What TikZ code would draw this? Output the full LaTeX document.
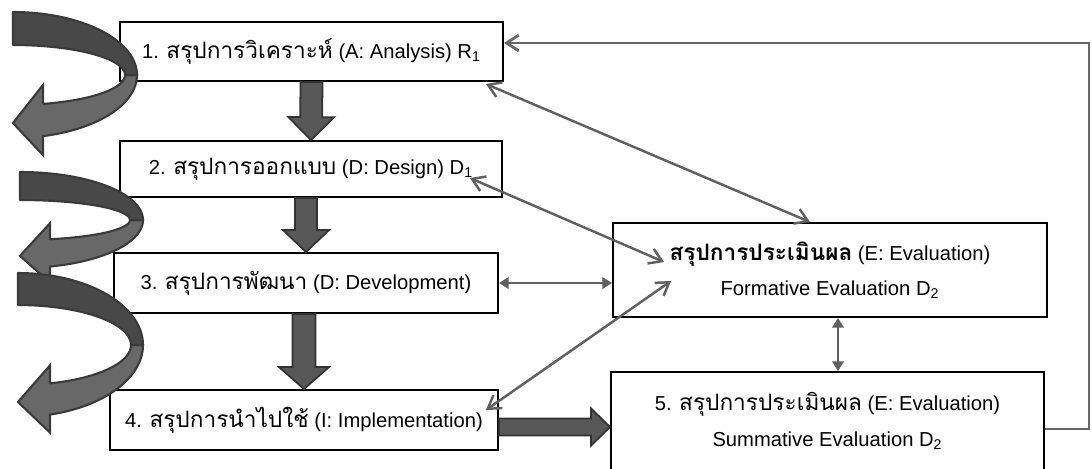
\documentclass[tikz,border=0pt]{standalone}
\usepackage{fontspec}
\setmainfont{Liberation Sans}
\newfontfamily\thaifont[Script=Thai,Scale=1.12]{Loma}
\usetikzlibrary{arrows.meta,calc,positioning}
\definecolor{linkgray}{RGB}{96,96,96}
\definecolor{backgray}{RGB}{104,104,104}
\definecolor{fatgray}{RGB}{88,88,88}
\definecolor{fatline}{RGB}{50,50,50}
\definecolor{ribfront}{RGB}{72,72,72}
\definecolor{ribback}{RGB}{104,104,104}
\definecolor{ribline}{RGB}{58,58,58}
\tikzstyle{box}=[draw=black,line width=1.1pt,fill=white,inner sep=0pt,align=center]
\tikzstyle{fat}=[draw=fatline,fill=fatgray,line width=1pt,line join=miter]
\newcommand{\thai}[1]{{\thaifont #1}}
% thick block arrow: from, to, shaft half width, head half width, head length
\newcommand{\fatarrow}[5]{
  \coordinate (hb) at ($(#2)!#5!(#1)$);
  \filldraw[fat] ($(#1)!#3!90:(#2)$) -- ($(hb)!#3!90:(#2)$) -- ($(hb)!#4!90:(#2)$) -- (#2)
    -- ($(hb)!#4!-90:(#2)$) -- ($(hb)!#3!-90:(#2)$) -- ($(#1)!#3!-90:(#2)$) -- cycle;}
% curved ribbon arrow: cx, cy, outer rx, outer ry, inner rx, inner ry, head x, head overhang
\newcommand{\ribbon}[8]{
  \pgfmathsetmacro\ao{acos((#7-#1)/#3)}
  \pgfmathsetmacro\ai{acos((#7-#1)/#5)}
  \pgfmathsetmacro\yo{#2+#4*sin(\ao)}
  \pgfmathsetmacro\yi{#2+#6*sin(\ai)}
  \pgfmathsetmacro\ym{(\yo+\yi)/2+3}
  \filldraw[ribbonback] plot[domain=0:\ao,samples=30] ({#1+#3*cos(\x)},{#2+#4*sin(\x)})
    -- (#7,\yo+#8) -- (#1,\ym) -- (#7,\yi-#8) -- (#7,\yi)
    -- plot[domain=\ai:0,samples=30] ({#1+#5*cos(\x)},{#2+#6*sin(\x)}) -- cycle;
  \filldraw[ribbonfront] plot[domain=-90:0,samples=30] ({#1+#3*cos(\x)},{#2+#4*sin(\x)})
    -- plot[domain=0:-90,samples=30] ({#1+#5*cos(\x)},{#2+#6*sin(\x)}) -- cycle;}
\tikzset{
  >={Straight Barb[length=7pt,width=9pt]},
  link/.style={draw=linkgray,line width=1.4pt},
  tri/.style={draw=linkgray,line width=1.4pt,{Triangle[length=5.5pt,width=6.5pt]}-{Triangle[length=5.5pt,width=6.5pt]}},
  feedback/.style={draw=backgray,line width=1.6pt},
  ribbonfront/.style={draw=ribline,fill=ribfront,line width=1.2pt,line join=round},
  ribbonback/.style={draw=ribline,fill=ribback,line width=1.2pt,line join=miter},
}

\begin{document}
\begin{tikzpicture}[x=0.02cm,y=-0.02cm,font=\fontsize{11.5}{14}\selectfont]
    \useasboundingbox (0,0) rectangle (1092,468);
    \clip (0,0) rectangle (1092,468);
    % the steps
    \node[box,minimum width=7.66cm,minimum height=1.18cm] (ana) at (311.5,51.5) {1. \thai{สรุปการวิเคราะห์} (A: Analysis) R\textsubscript{1}};
    \node[box,minimum width=7.64cm,minimum height=1.12cm] (des) at (311,169) {2. \thai{สรุปการออกแบบ} (D: Design) D\textsubscript{1}};
    \node[box,minimum width=7.68cm,minimum height=1.2cm] (dev) at (306,283) {3. \thai{สรุปการพัฒนา} (D: Development)};
    \node[box,minimum width=7.76cm,minimum height=1.2cm] (imp) at (304,420) {4. \thai{สรุปการนำไปใช้} (I: Implementation)};
    \node[box,minimum width=8.68cm,minimum height=1.88cm] (form) at (830,270) {\thai{\bfseries สรุปการประเมินผล} (E: Evaluation)\\[6pt] Formative Evaluation D\textsubscript{2}};
    \node[box,minimum width=8.66cm,minimum height=1.96cm] (summ) at (827.5,421) {5. \thai{สรุปการประเมินผล} (E: Evaluation)\\[6pt] Summative Evaluation D\textsubscript{2}};

    % block arrows
    \fatarrow{ana.south}{des.north}{0.22cm}{0.46cm}{0.46cm}
    \coordinate (a23) at (des.south -| dev.north);
    \fatarrow{a23}{dev.north}{0.22cm}{0.46cm}{0.44cm}
    \coordinate (a34) at (dev.south -| imp.north);
    \fatarrow{a34}{imp.north}{0.23cm}{0.5cm}{0.44cm}
    \coordinate (a45) at ([shift={(0,7)}]imp.east);
    \coordinate (a45e) at (a45 -| summ.west);
    \fatarrow{a45}{a45e}{0.17cm}{0.37cm}{0.38cm}

    % links to the formative evaluation
    \draw[link,<->] ([shift={(-18,2)}]ana.south east) -- ([shift={(-20,0)}]form.north);
    \draw[link,<->] ([shift={(-33,9)}]des.east) -- ([shift={(52,-8)}]form.west);
    \draw[tri] (dev.east) -- (dev.east -| form.west);
    \draw[link,<->] ([shift={(-13,-10)}]imp.east) -- ([shift={(59,11)}]form.west);
    \coordinate (fs) at ([shift={(8,0)}]form.south);
    \draw[tri] (fs) -- (fs |- summ.north);

    % return line
    \coordinate (back) at (1089,43);
    \draw[feedback,->] ([shift={(0,8)}]summ.east) -| (back) -- (back -| ana.east);

    % ribbons on the left
    \ribbon{13}{75}{124}{63}{112}{30}{43}{19}
    \ribbon{20}{220}{123}{48}{110}{20}{50}{16}
    \ribbon{18}{345}{125}{72}{113}{40}{50}{18}
\end{tikzpicture}
\end{document}
